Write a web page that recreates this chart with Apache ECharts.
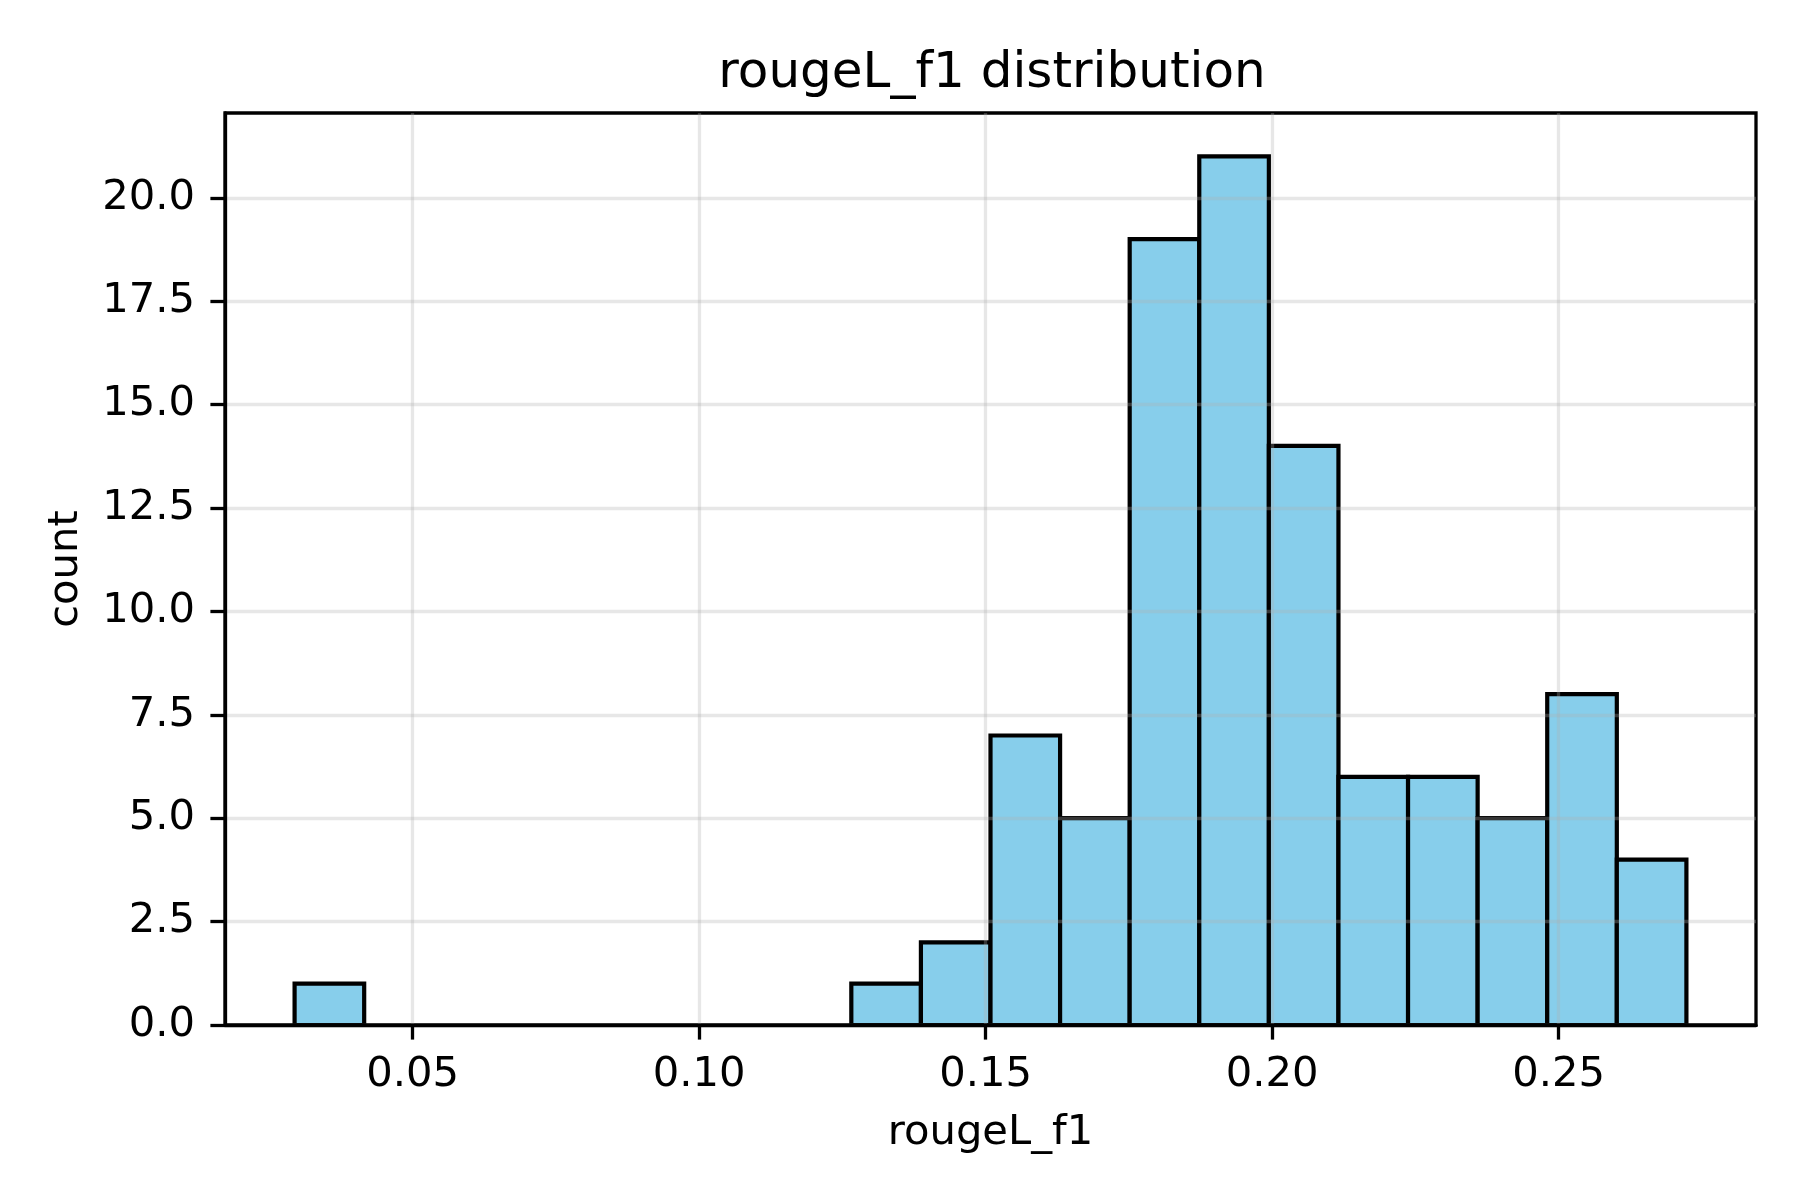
<!DOCTYPE html>
<html>
<head>
<meta charset="utf-8">
<title>rougeL_f1 distribution</title>
<script src="https://cdn.jsdelivr.net/npm/echarts@6/dist/echarts.min.js"></script>
<style>
  html, body { margin: 0; padding: 0; background: #fff; }
  #chart { width: 1800px; height: 1200px; }
</style>
</head>
<body>
<div id="chart"></div>
<script>
// histogram of rougeL_f1, 20 bins
const binLo = 0.0294
const binHi = 0.2723
const counts = [1, 0, 0, 0, 0, 0, 0, 0, 1, 2, 7, 5, 19, 21, 14, 6, 6, 5, 8, 4]
const xTicks = [0.05, 0.10, 0.15, 0.20, 0.25]
const yTicks = [0, 2.5, 5, 7.5, 10, 12.5, 15, 17.5, 20]

const FONT = '"DejaVu Sans", sans-serif'

const binW = (binHi - binLo) / counts.length
const bins = counts.map((c, i) => [binLo + i * binW, binLo + (i + 1) * binW, c])

// matplotlib default 5% x margin
const pad = (binHi - binLo) * 0.05
const yMax = Math.max(...counts) * 1.05

const chart = echarts.init(document.getElementById('chart'), null, {renderer: 'canvas'})

const option = {
  animation: false,
  backgroundColor: '#fff',
  title: {
    text: 'rougeL_f1 distribution',
    left: 987,
    textAlign: 'center',
    top: 44,
    textStyle: {fontFamily: FONT, fontSize: 50, fontWeight: 'normal', color: '#000'}
  },
  grid: {
    left: 225,
    right: 44,
    top: 113,
    bottom: 175,
    show: true,
    borderColor: '#000',
    borderWidth: 3.3,
    backgroundColor: 'transparent'
  },
  xAxis: {
    type: 'value',
    min: binLo - pad,
    max: binHi + pad,
    z: 3,
    name: 'rougeL_f1',
    nameLocation: 'middle',
    nameGap: 87,
    nameTextStyle: {fontFamily: FONT, fontSize: 41.7, color: '#000'},
    axisLine: {show: true, onZero: false, lineStyle: {color: '#000', width: 3.3}},
    axisTick: {show: true, inside: false, length: 14.6, customValues: xTicks, lineStyle: {color: '#000', width: 3.3}},
    axisLabel: {
      show: true,
      customValues: xTicks,
      margin: 29,
      fontFamily: FONT,
      fontSize: 41.7,
      color: '#000',
      formatter: (v) => v.toFixed(2)
    },
    splitLine: {show: true, lineStyle: {color: 'rgba(176,176,176,0.3)', width: 3.3}}
  },
  yAxis: {
    type: 'value',
    min: 0,
    max: yMax,
    z: 3,
    name: 'count',
    nameLocation: 'middle',
    nameGap: 138,
    nameTextStyle: {fontFamily: FONT, fontSize: 41.7, color: '#000'},
    axisLine: {show: true, lineStyle: {color: '#000', width: 3.3}},
    axisTick: {show: true, inside: false, length: 14.6, customValues: yTicks, lineStyle: {color: '#000', width: 3.3}},
    axisLabel: {
      show: true,
      customValues: yTicks,
      margin: 30,
      fontFamily: FONT,
      fontSize: 41.7,
      color: '#000',
      formatter: (v) => v.toFixed(1)
    },
    splitLine: {show: true, lineStyle: {color: 'rgba(176,176,176,0.3)', width: 3.3}}
  },
  series: [{
    type: 'custom',
    z: 1,
    data: bins.filter((b) => b[2] > 0),
    encode: {x: [0, 1], y: 2},
    renderItem: (params, api) => {
      const p0 = api.coord([api.value(0), api.value(2)])
      const p1 = api.coord([api.value(1), 0])
      return {
        type: 'rect',
        shape: {x: p0[0], y: p0[1], width: p1[0] - p0[0], height: p1[1] - p0[1]},
        style: {fill: '#87CEEB', stroke: '#000', lineWidth: 4.2}
      }
    }
  }]
}

chart.setOption(option)
</script>
</body>
</html>
